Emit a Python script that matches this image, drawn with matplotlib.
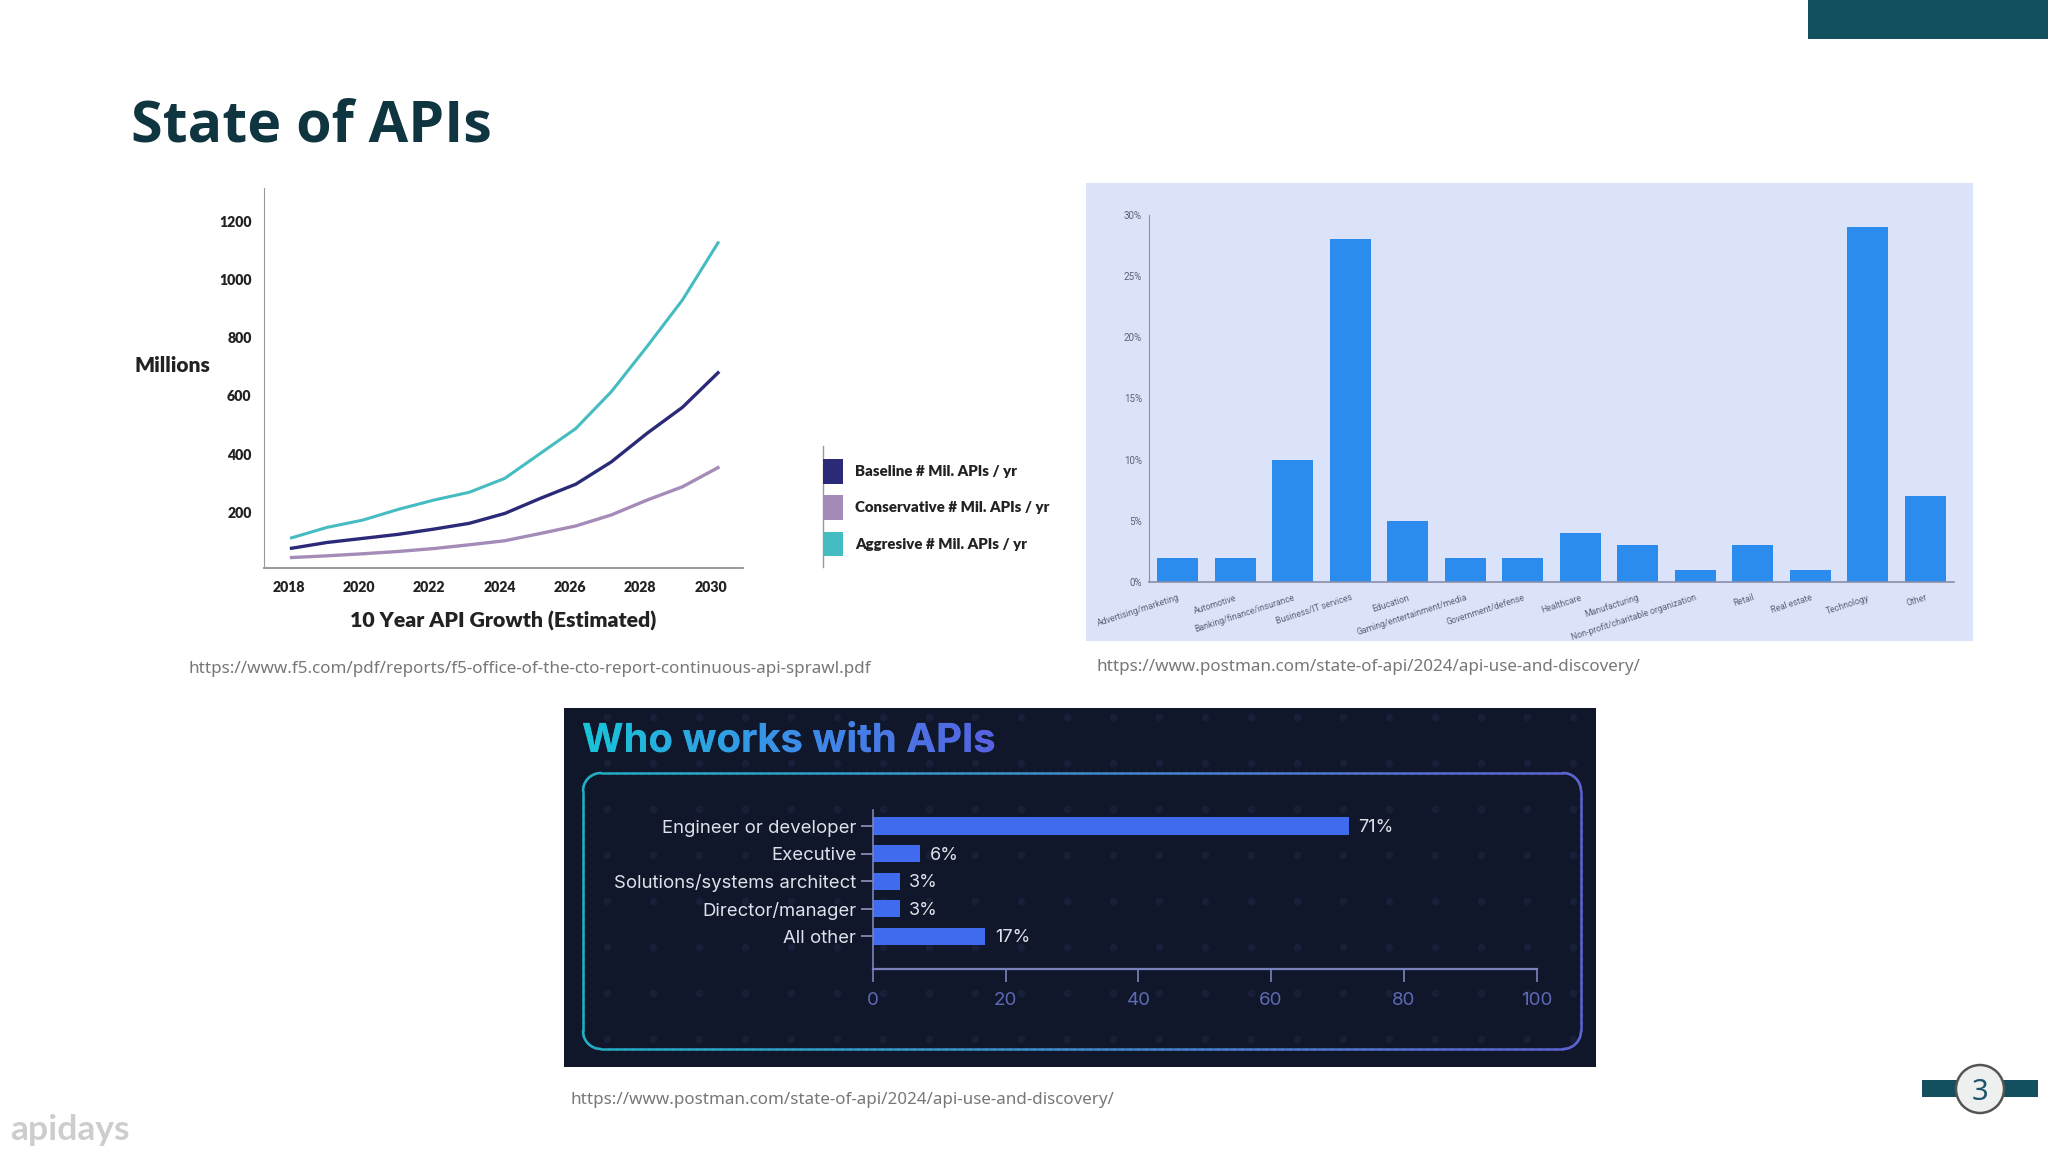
import numpy as np
import matplotlib
matplotlib.use('Agg')
import matplotlib.pyplot as plt
from matplotlib.collections import LineCollection
from matplotlib.colors import LinearSegmentedColormap
from matplotlib.font_manager import FontProperties
from matplotlib.patches import Rectangle, Circle, Patch
from matplotlib.textpath import TextPath
from matplotlib.transforms import Affine2D

W, H = 2048, 1152

# Line chart, values in millions
years = [2018, 2019, 2020, 2021, 2022, 2023, 2024, 2025, 2026, 2027, 2028, 2029, 2030]
baseline = [75, 95, 109, 123, 141, 161, 195, 247, 296, 373, 471, 561, 680]
conservative = [43, 49, 56, 64, 74, 87, 101, 126, 152, 190, 241, 287, 353]
aggressive = [111, 147, 172, 209, 241, 268, 316, 402, 488, 615, 770, 931, 1128]
year_ticks = [2018, 2020, 2022, 2024, 2026, 2028, 2030]
million_ticks = [200, 400, 600, 800, 1000, 1200]

# Industry bars, percent
industries = ['Advertising/marketing', 'Automotive', 'Banking/finance/insurance',
              'Business/IT services', 'Education', 'Gaming/entertainment/media',
              'Government/defense', 'Healthcare', 'Manufacturing',
              'Non-profit/charitable organization', 'Retail', 'Real estate',
              'Technology', 'Other']
industry_pct = [2, 2, 10, 28, 5, 2, 2, 4, 3, 1, 3, 1, 29, 7]
pct_ticks = [0, 5, 10, 15, 20, 25, 30]

# Who works with APIs, bar lengths as drawn and the printed labels
roles = ['Engineer or developer', 'Executive', 'Solutions/systems architect',
         'Director/manager', 'All other']
role_bars = [71.7, 7.1, 4, 4, 16.9]
role_labels = ['71%', '6%', '3%', '3%', '17%']
role_ticks = [0, 20, 40, 60, 80, 100]

TEAL = '#134f5e'
SANS = ['Noto Sans', 'DejaVu Sans']
HEAVY = ['Lato', 'DejaVu Sans']

fig = plt.figure(figsize=(W / 100, H / 100), dpi=100, facecolor='white')


def px_axes(x0, y0, x1, y1):
    ax = fig.add_axes([x0 / W, 1 - y1 / H, (x1 - x0) / W, (y1 - y0) / H])
    ax.patch.set_alpha(0)
    return ax


def rounded_outline(x0, y0, x1, y1, r):
    # closed outline of a rounded box, walked clockwise from the top left corner
    parts = []
    for cx, cy, start in [(x1 - r, y0 + r, -90), (x1 - r, y1 - r, 0),
                          (x0 + r, y1 - r, 90), (x0 + r, y0 + r, 180)]:
        t = np.radians(np.linspace(start, start + 90, 16))
        parts.append(np.column_stack([cx + r * np.cos(t), cy + r * np.sin(t)]))
    pts = np.vstack(parts + [parts[0][:1]])
    dense = [np.linspace(a, b, max(2, int(np.hypot(*(b - a)) / 8) + 1))[:-1]
             for a, b in zip(pts[:-1], pts[1:])]
    return np.vstack(dense + [pts[-1:]])


# Slide level layer, in pixels
bg = fig.add_axes([0, 0, 1, 1])
bg.set_xlim(0, W)
bg.set_ylim(H, 0)
bg.axis('off')

bg.add_patch(Rectangle((1808, 0), 240, 39, fc=TEAL, ec='none'))
bg.text(131, 126, 'State of APIs', family=['Open Sans', 'DejaVu Sans'], weight='bold',
        fontsize=41.3, color='#0f3540', va='center')
bg.text(189, 669, 'https://www.f5.com/pdf/reports/f5-office-of-the-cto-report-continuous-api-sprawl.pdf',
        family=SANS, fontsize=12.25, color='#777777', va='center')
bg.text(1096, 667, 'https://www.postman.com/state-of-api/2024/api-use-and-discovery/',
        family=SANS, fontsize=12.25, color='#777777', va='center')
bg.text(571, 1100, 'https://www.postman.com/state-of-api/2024/api-use-and-discovery/',
        family=SANS, fontsize=12.25, color='#777777', va='center')
bg.text(10, 1130, 'apidays', family=HEAVY, weight='bold', fontsize=25.5, color='#cdcdcd', va='center')

# page number
bg.add_patch(Rectangle((1922, 1080), 116, 17, fc=TEAL, ec='none'))
bg.add_patch(Circle((1980, 1089), 24, fc='#eef0f0', ec='#555555', lw=1.8, zorder=3))
bg.text(1980, 1092, '3', family=SANS, fontsize=21, color='#1a5568', ha='center',
        va='center', zorder=4)

# panels behind the charts
bg.add_patch(Rectangle((1086, 183), 887, 458, fc='#dbe3fb', ec='none'))
bg.add_patch(Rectangle((564, 708), 1032, 359, fc='#10172a', ec='none'))

# faint dot texture on the dark panel
dot_x, dot_y = np.meshgrid(np.arange(607, 1590, 46), np.arange(717, 1060, 46))
bg.scatter(dot_x.ravel(), dot_y.ravel(), s=30, color='#182039', lw=0, zorder=1)

grad = LinearSegmentedColormap.from_list('grad', ['#17c6d6', '#3b8ee8', '#5a5fe2'])

# rounded frame with a gradient edge
pts = rounded_outline(583, 773, 1581, 1049, 18)
segs = np.stack([pts[:-1], pts[1:]], axis=1)
frame_line = LineCollection(segs, cmap=LinearSegmentedColormap.from_list('frame', ['#22adc2', '#5d62d0']),
                            linewidths=1.8, capstyle='round', zorder=2)
frame_line.set_array(segs[:, :, 0].mean(axis=1))
bg.add_collection(frame_line)

# heading of the dark panel, real text with the gradient laid over its outline
head = 'Who works with APIs'
head_font = FontProperties(family='Inter', weight='bold')
head_pt = 28.8
bg.text(582, 752, head, fontproperties=head_font, fontsize=head_pt, color='#3b8ee8',
        va='baseline', zorder=3)
head_path = TextPath((0, 0), head, size=head_pt, prop=head_font)
head_tf = Affine2D().scale(100 / 72).translate(582, H - 752)
head_im = bg.imshow(np.linspace(0, 1, 256).reshape(1, -1), cmap=grad, aspect='auto',
                    extent=(582, 1000, 762, 712), zorder=4)
head_im.set_clip_path(head_path, head_tf)
bg.set_xlim(0, W)
bg.set_ylim(H, 0)

# Line chart
ax1 = px_axes(264, 188, 743, 568)
ax1.plot(years, aggressive, color='#45bcc2', lw=2.2)
ax1.plot(years, baseline, color='#2b2a78', lw=2.4)
ax1.plot(years, conservative, color='#a58cb8', lw=2.4)
ax1.set_xlim(2017.226, 2030.703)
ax1.set_ylim(7, 1317)
# printed year labels sit a little tighter than the data
ax1.set_xticks(np.linspace(2017.92, 2029.79, len(year_ticks)))
ax1.set_xticklabels(year_ticks)
ax1.set_yticks(million_ticks)
ax1.tick_params(length=0, labelsize=10.2, labelcolor='#222222', pad=9)
for lab in ax1.get_xticklabels() + ax1.get_yticklabels():
    lab.set_family(HEAVY)
    lab.set_weight('heavy')
for side in ['top', 'right']:
    ax1.spines[side].set_visible(False)
ax1.spines['left'].set_color('#999999')
ax1.spines['bottom'].set_color('#999999')
ax1.spines['bottom'].set_linewidth(1.4)
bg.text(172, 366, 'Millions', family=HEAVY, weight='heavy', fontsize=15,
        color='#222222', ha='center', va='center')
bg.text(503, 621, '10 Year API Growth (Estimated)', family=HEAVY,
        weight='heavy', fontsize=15.3, color='#222222', ha='center', va='center')

# legend of the line chart
leg = ax1.legend(handles=[Patch(fc='#2b2a78', label='Baseline # Mil. APIs / yr'),
                          Patch(fc='#a58cb8', label='Conservative # Mil. APIs / yr'),
                          Patch(fc='#45bcc2', label='Aggresive # Mil. APIs / yr')],
                 loc='upper left', bbox_to_anchor=(823 / W, 1 - 459 / H),
                 bbox_transform=fig.transFigure, frameon=False,
                 handlelength=1.36, handleheight=2.15, labelspacing=0.775,
                 handletextpad=0.78, borderpad=0, borderaxespad=0,
                 prop={'family': HEAVY, 'weight': 'heavy', 'size': 10.8})
for txt in leg.get_texts():
    txt.set_color('#222222')
bg.plot([823, 823], [446, 567], color='#999999', lw=1)

# Industry bars
ax2 = px_axes(1149, 215, 1954, 582)
ax2.bar(range(len(industries)), industry_pct, width=0.72, color='#2b8cee')
ax2.set_xlim(-0.5, 13.5)
ax2.set_ylim(0, 30)
ax2.set_yticks(pct_ticks)
ax2.set_yticklabels([f'{p}%' for p in pct_ticks])
ax2.set_xticks(range(len(industries)))
ax2.set_xticklabels(industries, rotation=18, ha='right', rotation_mode='anchor')
ax2.tick_params(axis='x', length=0, labelsize=6.2, labelcolor='#5a6178', pad=8)
ax2.tick_params(axis='y', length=0, labelsize=7, labelcolor='#5a6178', pad=5)
for lab in ax2.get_xticklabels() + ax2.get_yticklabels():
    lab.set_family(['Roboto', 'DejaVu Sans'])
for side in ['top', 'right']:
    ax2.spines[side].set_visible(False)
ax2.spines['left'].set_color('#8a90a8')
ax2.spines['bottom'].set_color('#8a90a8')
ax2.spines['bottom'].set_linewidth(1.2)

# Who works with APIs
ax3 = px_axes(873, 810, 1536.5, 969)
ax3.barh(range(len(roles)), role_bars, height=0.627, color='#416bee')
ax3.set_xlim(0, 100)
ax3.set_ylim(5.18, -0.58)
ax3.set_yticks(range(len(roles)))
ax3.set_yticklabels(roles)
ax3.set_xticks(role_ticks)
ax3.tick_params(axis='y', length=9, width=1.2, color='#8d93c0', labelsize=13.35,
                labelcolor='#dfe2ea', pad=3)
ax3.tick_params(axis='x', length=9.5, width=1.2, color='#7a82bd', labelsize=13.5,
                labelcolor='#5e6ab5', pad=7)
for lab in ax3.get_xticklabels() + ax3.get_yticklabels():
    lab.set_family(['Inter', 'DejaVu Sans'])
for side in ['top', 'right']:
    ax3.spines[side].set_visible(False)
ax3.spines['left'].set_color('#7a82bd')
ax3.spines['bottom'].set_color('#7a82bd')
ax3.spines['left'].set_linewidth(1.2)
ax3.spines['bottom'].set_linewidth(1.6)
for i, (val, lab) in enumerate(zip(role_bars, role_labels)):
    ax3.annotate(lab, xy=(val, i), xytext=(7, -1), textcoords='offset points', va='center',
                 family=['Inter', 'DejaVu Sans'], fontsize=13, color='#dfe2ea')

fig.savefig('out.png', dpi=100)
